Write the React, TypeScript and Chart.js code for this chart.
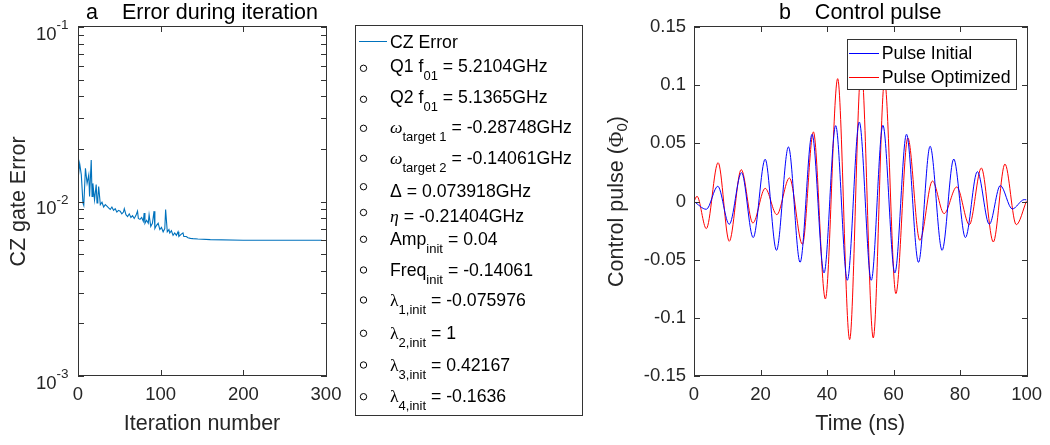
import React, { useEffect, useRef } from 'react';
import { Chart, registerables } from 'chart.js';

Chart.register(...registerables);

const SANS = '"Liberation Sans", Arial, Helvetica, sans-serif';
const SERIF = '"Liberation Serif", "Times New Roman", serif';
const INK = '#262626';
const FRAME = '#333333';

// ---------------- Panel a: error during iteration ----------------
const iterationNumbers = [
  0, 2, 4, 6, 7, 9, 11, 13, 14, 16, 17, 18, 20, 22, 23, 24, 25, 27, 29, 31, 33, 35, 37, 39, 41, 43, 45, 47, 49, 51,
  53, 55, 56, 58, 60, 62, 64, 66, 68, 70, 72, 73, 75, 77, 79, 80, 81, 83, 85, 86, 88, 90, 92, 93, 95, 97, 99, 101,
  103, 105, 106, 108, 110, 111, 113, 115, 117, 119, 121, 122, 125, 127, 128, 131, 133, 136, 139, 145, 160, 200, 250, 295,
];
const czGateErrors = [
  0.0133, 0.0165, 0.0142, 0.0098, 0.0095, 0.0155, 0.0127, 0.0142, 0.0107, 0.0173, 0.0107, 0.0127, 0.0102, 0.0125,
  0.0098, 0.0104, 0.0122, 0.0096, 0.0099, 0.0093, 0.0096, 0.0094, 0.0092, 0.009, 0.0093, 0.0089, 0.0091, 0.0087,
  0.0089, 0.0088, 0.0085, 0.0087, 0.0091, 0.0084, 0.0082, 0.0085, 0.0081, 0.0083, 0.008, 0.0083, 0.0088, 0.008,
  0.0079, 0.0081, 0.0077, 0.0086, 0.0075, 0.0078, 0.0075, 0.0084, 0.0072, 0.0075, 0.0088, 0.007, 0.0073, 0.0075,
  0.0069, 0.0071, 0.0067, 0.007, 0.009, 0.0067, 0.0069, 0.0066, 0.0068, 0.0064, 0.0066, 0.0064, 0.0067, 0.0063,
  0.0065, 0.0066, 0.0063, 0.0063, 0.0062, 0.00615, 0.00613, 0.0061, 0.00605, 0.006, 0.006, 0.006,
];
const errorDecades = [0.001, 0.01, 0.1];
const errorDecadeExponents = ['-3', '-2', '-1'];
const errorMinorMantissas = [2, 3, 4, 5, 6, 7, 8, 9];
const iterationTicks = [0, 100, 200, 300];
const czSeriesLabel = 'CZ Error';

type Seg = { t: string; sub?: boolean; font?: 'serif' | 'serifItalic' };
const parameterLegend: Seg[][] = [
  [{ t: 'Q1 f' }, { t: '01', sub: true }, { t: ' = 5.2104GHz' }],
  [{ t: 'Q2 f' }, { t: '01', sub: true }, { t: ' = 5.1365GHz' }],
  [{ t: 'ω', font: 'serifItalic' }, { t: 'target 1', sub: true }, { t: ' = -0.28748GHz' }],
  [{ t: 'ω', font: 'serifItalic' }, { t: 'target 2', sub: true }, { t: ' = -0.14061GHz' }],
  [{ t: 'Δ = 0.073918GHz' }],
  [{ t: 'η', font: 'serifItalic' }, { t: ' = -0.21404GHz' }],
  [{ t: 'Amp' }, { t: 'init', sub: true }, { t: ' = 0.04' }],
  [{ t: 'Freq' }, { t: 'init', sub: true }, { t: ' = -0.14061' }],
  [{ t: 'λ', font: 'serif' }, { t: '1,init', sub: true }, { t: ' = -0.075976' }],
  [{ t: 'λ', font: 'serif' }, { t: '2,init', sub: true }, { t: ' = 1' }],
  [{ t: 'λ', font: 'serif' }, { t: '3,init', sub: true }, { t: ' = 0.42167' }],
  [{ t: 'λ', font: 'serif' }, { t: '4,init', sub: true }, { t: ' = -0.1636' }],
];

// ---------------- Panel b: control pulse (extrema) ----------------
const timeInitialNs = [
  0, 3.7, 7.15, 10.6, 14.3, 17.8, 21.4, 24.8, 28.4, 31.9, 35.5, 39.1, 42.6, 46.1, 49.7, 53.3, 56.8, 60.4, 63.9, 67.5,
  71.0, 74.6, 78.1, 81.6, 85.2, 88.8, 92.1, 95.7, 99.3, 100,
];
const pulseInitialPhi0 = [
  0, -0.0067, 0.0131, -0.0196, 0.0248, -0.031, 0.0363, -0.042, 0.0469, -0.0523, 0.0578, -0.0614, 0.0652, -0.0677,
  0.0683, -0.0677, 0.0655, -0.0614, 0.0578, -0.0523, 0.0475, -0.042, 0.0365, -0.031, 0.0257, -0.0196, 0.0137,
  -0.0064, 0.0016, 0.0014,
];
const timeOptimizedNs = [
  0, 0.9, 3.7, 7.25, 10.6, 14.2, 17.7, 21.4, 24.9, 28.7, 32.6, 35.9, 39.5, 43.2, 46.8, 50.3, 53.9, 57.3, 60.7, 64.3,
  67.9, 71.7, 75.2, 79.0, 82.8, 86.4, 90.0, 93.5, 96.9, 100,
];
const pulseOptimizedPhi0 = [
  0, 0.0045, -0.0233, 0.0334, -0.0342, 0.0274, -0.0185, 0.0113, -0.0113, 0.0202, -0.0368, 0.0598, -0.0838, 0.1056,
  -0.1187, 0.115, -0.1173, 0.104, -0.0792, 0.0546, -0.0334, 0.0176, -0.0104, 0.0125, -0.0199, 0.0288, -0.0348,
  0.0322, -0.0199, 0.0005,
];
const pulseLabels = ['Pulse Initial', 'Pulse Optimized'];
const pulseColors = ['#0000ff', '#ff0000'];
const timeTicks = [0, 20, 40, 60, 80, 100];
const pulseTicks = [-0.15, -0.1, -0.05, 0, 0.05, 0.1, 0.15];

// ---------------- layout constants ----------------
const TICK = 18.5;
const LABEL = 21.5;
const LEG = 17.7;
const TICK_LEN = 6;
const legendRowBaselines = [71.7, 102.7, 133.3, 164, 196.7, 221.7, 245, 276, 306, 339.3, 370.7, 402.3];
const legendCircleY = [68.3, 99.3, 128.3, 158.3, 186.7, 212.5, 239.3, 270, 300, 333.3, 365, 396.7];

function segFont(s: Seg, size: number) {
  if (s.font === 'serifItalic') return `italic ${size}px ${SERIF}`;
  if (s.font === 'serif') return `${size}px ${SERIF}`;
  return `${size}px ${SANS}`;
}

function drawRich(ctx: CanvasRenderingContext2D, segs: Seg[], x: number, y: number, size: number, subSize: number, drop: number) {
  let cx = x;
  for (const s of segs) {
    const sz = s.sub ? subSize : size;
    ctx.font = segFont(s, sz);
    ctx.fillText(s.t, cx, s.sub ? y + drop : y);
    cx += ctx.measureText(s.t).width;
  }
}

// Box and inward tick marks, positioned through the chart's own scales
function drawFrame(chart: any, xVals: number[], yVals: number[], len: number) {
  const { ctx, chartArea: a, scales } = chart;
  const left = Math.round(a.left);
  const right = Math.round(a.right);
  const top = Math.round(a.top) - 1;
  const bottom = Math.round(a.bottom) - 1;
  ctx.save();
  ctx.fillStyle = FRAME;
  ctx.fillRect(left, top, right - left + 1, 1);
  ctx.fillRect(left, bottom, right - left + 1, 1);
  ctx.fillRect(left, top, 1, bottom - top + 1);
  ctx.fillRect(right, top, 1, bottom - top + 1);
  for (const v of xVals) {
    const px = Math.round(scales.x.getPixelForValue(v));
    ctx.fillRect(px, bottom - len + 1, 1, len);
    ctx.fillRect(px, top, 1, len);
  }
  for (const v of yVals) {
    const py = Math.round(scales.y.getPixelForValue(v));
    ctx.fillRect(left, py, len, 1);
    ctx.fillRect(right - len + 1, py, len, 1);
  }
  ctx.restore();
}

function drawTitle(chart: any, text: string) {
  const { ctx, chartArea: a } = chart;
  ctx.save();
  ctx.fillStyle = '#000';
  ctx.font = `${LABEL}px ${SANS}`;
  ctx.textAlign = 'center';
  ctx.textBaseline = 'alphabetic';
  ctx.fillText(text, (a.left + a.right) / 2, 18.5);
  ctx.restore();
}

function ErrorPanel() {
  const ref = useRef<HTMLCanvasElement>(null);
  useEffect(() => {
    const minorTicks: number[] = [];
    for (const d of errorDecades.slice(0, -1)) for (const m of errorMinorMantissas) minorTicks.push(m * d);
    const framePlugin = {
      id: 'frameA',
      afterDraw(chart: any) {
        const { ctx, chartArea: a, scales } = chart;
        drawFrame(chart, iterationTicks, [...errorDecades, ...minorTicks], TICK_LEN);
        drawTitle(chart, 'a    Error during iteration');
        ctx.save();
        ctx.fillStyle = INK;
        ctx.textBaseline = 'alphabetic';
        errorDecades.forEach((d, i) => {
          const py = scales.y.getPixelForValue(d);
          const exp = errorDecadeExponents[i];
          ctx.font = `13.5px ${SANS}`;
          const ew = ctx.measureText(exp).width;
          ctx.font = `${TICK}px ${SANS}`;
          const mw = ctx.measureText('10').width;
          const right = a.left - 9.5;
          ctx.fillText('10', right - ew - mw, py + 12.5);
          ctx.font = `13.5px ${SANS}`;
          ctx.fillText(exp, right - ew, py + 2);
        });
        ctx.fillStyle = '#fff';
        ctx.fillRect(355.5, 25.5, 227, 390);
        ctx.strokeStyle = FRAME;
        ctx.lineWidth = 1;
        ctx.strokeRect(355.5, 25.5, 227, 390);
        const ds = chart.data.datasets[0];
        ctx.strokeStyle = ds.borderColor;
        ctx.beginPath();
        ctx.moveTo(359, 41.5);
        ctx.lineTo(387, 41.5);
        ctx.stroke();
        ctx.fillStyle = '#000';
        ctx.font = `${LEG}px ${SANS}`;
        ctx.fillText(ds.label, 390, 48.3);
        ctx.strokeStyle = '#000';
        parameterLegend.forEach((segs, i) => {
          ctx.beginPath();
          ctx.arc(363.5, legendCircleY[i], 3.2, 0, Math.PI * 2);
          ctx.stroke();
          drawRich(ctx, segs, 390, legendRowBaselines[i], LEG, 13, 8);
        });
        ctx.restore();
      },
    };
    const chart = new Chart(ref.current!, {
      type: 'line',
      data: {
        datasets: [
          {
            label: czSeriesLabel,
            data: iterationNumbers.map((it, i) => ({ x: it, y: czGateErrors[i] })),
            borderColor: '#0072bd',
            borderWidth: 1.1,
            pointRadius: 0,
            tension: 0,
            fill: false,
          },
        ],
      },
      options: {
        animation: false,
        responsive: false,
        devicePixelRatio: 1,
        layout: { padding: { left: 0, right: 274, top: 27, bottom: 0 } },
        plugins: { legend: { display: false }, title: { display: false }, tooltip: { enabled: false } },
        scales: {
          x: {
            type: 'linear',
            min: 0,
            max: 300,
            grid: { display: false, drawTicks: false },
            border: { display: false },
            ticks: { stepSize: 100, color: INK, font: { family: SANS, size: TICK }, padding: 8, maxRotation: 0, autoSkip: false },
            title: { display: true, text: 'Iteration number', color: INK, font: { family: SANS, size: LABEL }, padding: { top: 0, bottom: 8.5 } },
            afterFit: (s: any) => { s.height = 69; },
          },
          y: {
            type: 'logarithmic',
            min: 0.001,
            max: 0.1,
            grid: { display: false, drawTicks: false },
            border: { display: false },
            ticks: { display: false },
            title: { display: true, text: 'CZ gate Error', color: INK, font: { family: SANS, size: LABEL }, padding: { top: 6, bottom: 0 } },
            afterFit: (s: any) => { s.width = 78; },
          },
        },
      },
      plugins: [framePlugin],
    } as any);
    return () => chart.destroy();
  }, []);
  return <canvas ref={ref} width={600} height={445} style={{ position: 'absolute', left: 0, top: 0 }} />;
}

function PulsePanel() {
  const ref = useRef<HTMLCanvasElement>(null);
  useEffect(() => {
    const framePlugin = {
      id: 'frameB',
      afterDraw(chart: any) {
        const { ctx, chartArea: a } = chart;
        drawFrame(chart, timeTicks, pulseTicks, TICK_LEN);
        drawTitle(chart, 'b    Control pulse');
        ctx.save();
        ctx.fillStyle = INK;
        ctx.textBaseline = 'middle';
        const parts: Seg[] = [{ t: 'Control pulse (' }, { t: 'Φ', font: 'serif' }, { t: '0', sub: true }, { t: ')' }];
        let total = 0;
        for (const p of parts) {
          ctx.font = segFont(p, p.sub ? 15 : LABEL);
          total += ctx.measureText(p.t).width;
        }
        ctx.translate(17, (a.top + a.bottom) / 2);
        ctx.rotate(-Math.PI / 2);
        drawRich(ctx, parts, -total / 2, 0, LABEL, 15, 6);
        ctx.restore();
        ctx.save();
        ctx.fillStyle = '#fff';
        ctx.fillRect(247.5, 39.5, 169, 50);
        ctx.strokeStyle = FRAME;
        ctx.lineWidth = 1;
        ctx.strokeRect(247.5, 39.5, 169, 50);
        const lineY = [53.5, 77.5];
        const textY = [59.3, 83.3];
        chart.data.datasets.forEach((ds: any, i: number) => {
          ctx.strokeStyle = ds.borderColor;
          ctx.beginPath();
          ctx.moveTo(249, lineY[i]);
          ctx.lineTo(279, lineY[i]);
          ctx.stroke();
          ctx.fillStyle = '#000';
          ctx.font = `${LEG}px ${SANS}`;
          ctx.textBaseline = 'alphabetic';
          ctx.fillText(ds.label, 281.7, textY[i]);
        });
        ctx.restore();
      },
    };
    const series = [
      { t: timeInitialNs, v: pulseInitialPhi0 },
      { t: timeOptimizedNs, v: pulseOptimizedPhi0 },
    ];
    const chart = new Chart(ref.current!, {
      type: 'line',
      data: {
        datasets: series.map((s, k) => ({
          label: pulseLabels[k],
          data: s.t.map((t, i) => ({ x: t, y: s.v[i] })),
          borderColor: pulseColors[k],
          borderWidth: 1,
          pointRadius: 0,
          cubicInterpolationMode: 'monotone',
          fill: false,
        })),
      },
      options: {
        animation: false,
        responsive: false,
        devicePixelRatio: 1,
        layout: { padding: { left: 0, right: 21, top: 27, bottom: 0 } },
        plugins: { legend: { display: false }, title: { display: false }, tooltip: { enabled: false } },
        scales: {
          x: {
            type: 'linear',
            min: 0,
            max: 100,
            grid: { display: false, drawTicks: false },
            border: { display: false },
            ticks: { stepSize: 20, color: INK, font: { family: SANS, size: TICK }, padding: 8, maxRotation: 0, autoSkip: false },
            title: { display: true, text: 'Time (ns)', color: INK, font: { family: SANS, size: LABEL }, padding: { top: 0, bottom: 8.5 } },
            afterFit: (s: any) => { s.height = 69; },
          },
          y: {
            type: 'linear',
            min: -0.15,
            max: 0.15,
            grid: { display: false, drawTicks: false },
            border: { display: false },
            ticks: {
              stepSize: 0.05,
              color: INK,
              font: { family: SANS, size: TICK },
              padding: 8,
              callback: (v: number) => String(Math.round(v * 100) / 100),
            },
            afterFit: (s: any) => { s.width = 94; },
          },
        },
      },
      plugins: [framePlugin],
    } as any);
    return () => chart.destroy();
  }, []);
  return <canvas ref={ref} width={450} height={445} style={{ position: 'absolute', left: 600, top: 0 }} />;
}

export default function App() {
  return (
    <div style={{ position: 'fixed', left: 0, top: 0, width: 1050, height: 445, background: '#fff', overflow: 'hidden' }}>
      <ErrorPanel />
      <PulsePanel />
    </div>
  );
}
